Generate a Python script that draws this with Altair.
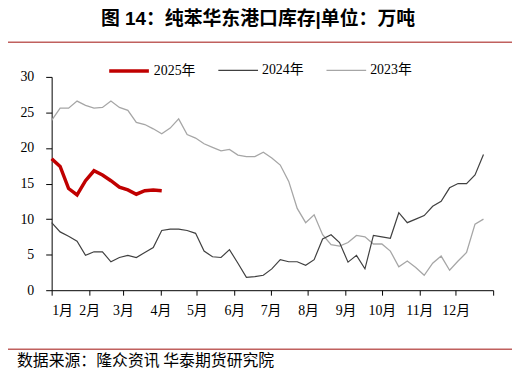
import altair as alt
import pandas as pd

series_names = ["2025年", "2024年", "2023年"]
series_colors = ["#C00000", "#404040", "#A6A6A6"]
series_widths = [3.5, 1.2, 1.3]

val_2025 = [18.5, 17.4, 14.3, 13.4, 15.4, 16.8, 16.2, 15.4, 14.5, 14.1, 13.5, 14.0, 14.1, 14.0]
val_2024 = [9.5, 8.2, 7.6, 6.9, 4.9, 5.4, 5.4, 4.0, 4.6, 4.9, 4.6, 5.3, 6.0,
            8.4, 8.6, 8.6, 8.4, 8.0, 5.5, 4.7, 4.6, 5.7,
            3.8, 1.8, 1.9, 2.1, 3.0, 4.3, 4.0, 4.0, 3.5,
            4.3, 7.2, 7.8, 6.7, 3.95, 4.9, 3.0, 7.7, 7.5, 7.3,
            10.9, 9.5, 10.0, 10.5, 11.8, 12.5, 14.4, 15.0, 15.0, 16.2, 19.1]
val_2023 = [23.9, 25.6, 25.6, 26.6, 26.0, 25.6, 25.7, 26.6, 25.7, 25.3,
            23.6, 23.3, 22.7, 22.0, 22.8, 24.1, 21.9, 21.4, 20.6, 20.1,
            19.6, 19.8, 19.0, 18.8, 18.8, 19.4, 18.6, 17.6, 15.3, 11.5,
            9.5, 10.6, 7.8, 6.4, 6.2, 6.7, 7.7, 7.5, 6.5, 6.5,
            5.5, 3.3, 4.1, 3.2, 2.1, 3.8, 4.8, 2.8, 4.1, 5.3, 9.3, 10.0]

month_start_days = [0, 31, 59, 90, 120, 151, 181, 212, 243, 273, 304, 334, 365]
month_labels = ["1月", "2月", "3月", "4月", "5月", "6月", "7月", "8月", "9月", "10月", "11月", "12月", ""]
y_ticks = [0, 5, 10, 15, 20, 25, 30]

title_text = "图 14：纯苯华东港口库存|单位：万吨"
source_text = "数据来源：隆众资讯 华泰期货研究院"

rows = []
for name, vals in [("2023年", val_2023), ("2024年", val_2024), ("2025年", val_2025)]:
    for i, v in enumerate(vals):
        rows.append({"series": name, "day": i * 7, "value": v})
df = pd.DataFrame(rows)

label_expr = "{" + ",".join(f"'{d}':'{l}'" for d, l in zip(month_start_days, month_labels)) + "}[datum.value]"

W, H = 445, 215
serif = "Liberation Serif, Times New Roman, Noto Sans CJK SC"

legend_cfg = dict(title=None, orient="none", legendX=56, legendY=-28,
                  direction="horizontal", symbolType="stroke",
                  symbolSize=1600, labelFont=serif, labelFontSize=14,
                  labelColor="black", columnPadding=20, labelOffset=3)

lines = alt.Chart(df).mark_line().encode(
    x=alt.X("day:Q", scale=alt.Scale(domain=[0, 365], nice=False),
            axis=alt.Axis(values=month_start_days, labelExpr=label_expr, title=None,
                          grid=False, tickSize=5, labelPadding=8, domainColor="black",
                          tickColor="black", labelFont=serif, labelFontSize=14,
                          labelColor="black", labelAngle=0)),
    y=alt.Y("value:Q", scale=alt.Scale(domain=[0, 30], nice=False),
            axis=alt.Axis(values=y_ticks, title=None, grid=False, tickSize=6,
                          labelPadding=12, domainColor="black", tickColor="black",
                          labelFont=serif, labelFontSize=14, labelColor="black")),
    color=alt.Color("series:N", scale=alt.Scale(domain=series_names, range=series_colors),
                    legend=alt.Legend(**legend_cfg)),
    strokeWidth=alt.StrokeWidth("series:N",
                                scale=alt.Scale(type="ordinal", domain=series_names, range=series_widths),
                                legend=alt.Legend(**legend_cfg)),
    detail="series:N",
)

title = alt.Chart(pd.DataFrame({"t": [title_text]})).mark_text(
    font="Liberation Sans, Noto Sans CJK SC", fontSize=19, fontWeight="bold", color="black",
    align="center", baseline="middle"
).encode(x=alt.value(208), y=alt.value(-58), text="t:N")

title_rule = alt.Chart(pd.DataFrame({"a": [0]})).mark_rule(color="#C0605E", strokeWidth=1.5).encode(
    x=alt.value(-44), x2=alt.value(464), y=alt.value(-35))

footer_rule = alt.Chart(pd.DataFrame({"a": [0]})).mark_rule(color="#C0605E", strokeWidth=1.5).encode(
    x=alt.value(-44), x2=alt.value(464), y=alt.value(274.5))

footer = alt.Chart(pd.DataFrame({"t": [source_text]})).mark_text(
    font="Noto Sans CJK SC", fontSize=16, color="black", align="left", baseline="middle"
).encode(x=alt.value(-35), y=alt.value(286), text="t:N")

chart = alt.layer(lines, title_rule, title, footer_rule, footer).properties(
    width=W, height=H,
    autosize=alt.AutoSizeParams(type="none"),
    padding={"left": 44, "top": 68, "right": 20, "bottom": 81},
).configure_view(stroke=None)

chart.save("out.html", embed_options={"renderer": "svg", "actions": False})
